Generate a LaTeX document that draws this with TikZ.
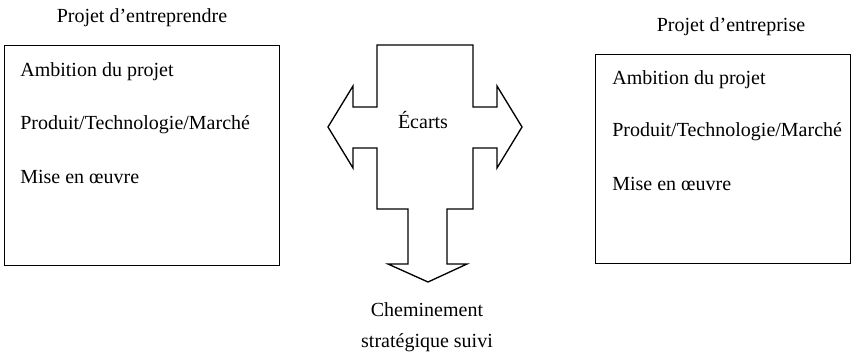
\documentclass[tikz,border=0pt]{standalone}
\usepackage{fontspec}
\setmainfont{Liberation Serif}
\usetikzlibrary{positioning}
\tikzset{
  cadre/.style={draw, line width=0.6pt, inner sep=0pt},
  titre/.style={font=\fontsize{12}{14}\selectfont},
  ligne/.style={font=\fontsize{12}{14}\selectfont, anchor=west, inner sep=0pt},
}
\begin{document}
\begin{tikzpicture}[x=0.6pt,y=-0.6pt]
\def\ecarts{(377,45) -- (473,45) -- (473,107) -- (497,107) -- (497,86) -- (522,127) -- (497,168) -- (497,148) -- (473,148) -- (473,209) -- (447,209) -- (447,264) -- (467,264) -- (428,282) -- (388,264) -- (408,264) -- (408,209) -- (377,209) -- (377,148) -- (353,148) -- (353,168) -- (328,127) -- (353,86) -- (353,107) -- (377,107) -- cycle}
\useasboundingbox (0,0) rectangle (863,362);
% projet d'entreprendre
\node[cadre, minimum width=165pt, minimum height=132pt] (pe) at (141.5,155) {};
\node[titre] (tpe) at (142,18) {Projet d'entreprendre};
\node[ligne] (pe1) at (20,72) {Ambition du projet};
\node[ligne] (pe2) at (20,125) {Produit/Technologie/Marché};
\node[ligne] (pe3) at (20,177) {Mise en œuvre};
% projet d'entreprise
\node[cadre, minimum width=153pt, minimum height=125.4pt] (ps) at (722.5,158.5) {};
\node[titre] (tps) at (731,27) {Projet d'entreprise};
\node[ligne] (ps1) at (612,80) {Ambition du projet};
\node[ligne] (ps2) at (612,132) {Produit/Technologie/Marché};
\node[ligne] (ps3) at (612,184) {Mise en œuvre};
% ecarts
\draw[line width=0.8pt, line join=miter] \ecarts;
\node[titre] (ec) at (423,120) {Écarts};
\node[titre, align=center, font=\fontsize{12}{18.6}\selectfont] (ch) at (427,327) {Cheminement\\stratégique suivi};
\end{tikzpicture}
\end{document}
